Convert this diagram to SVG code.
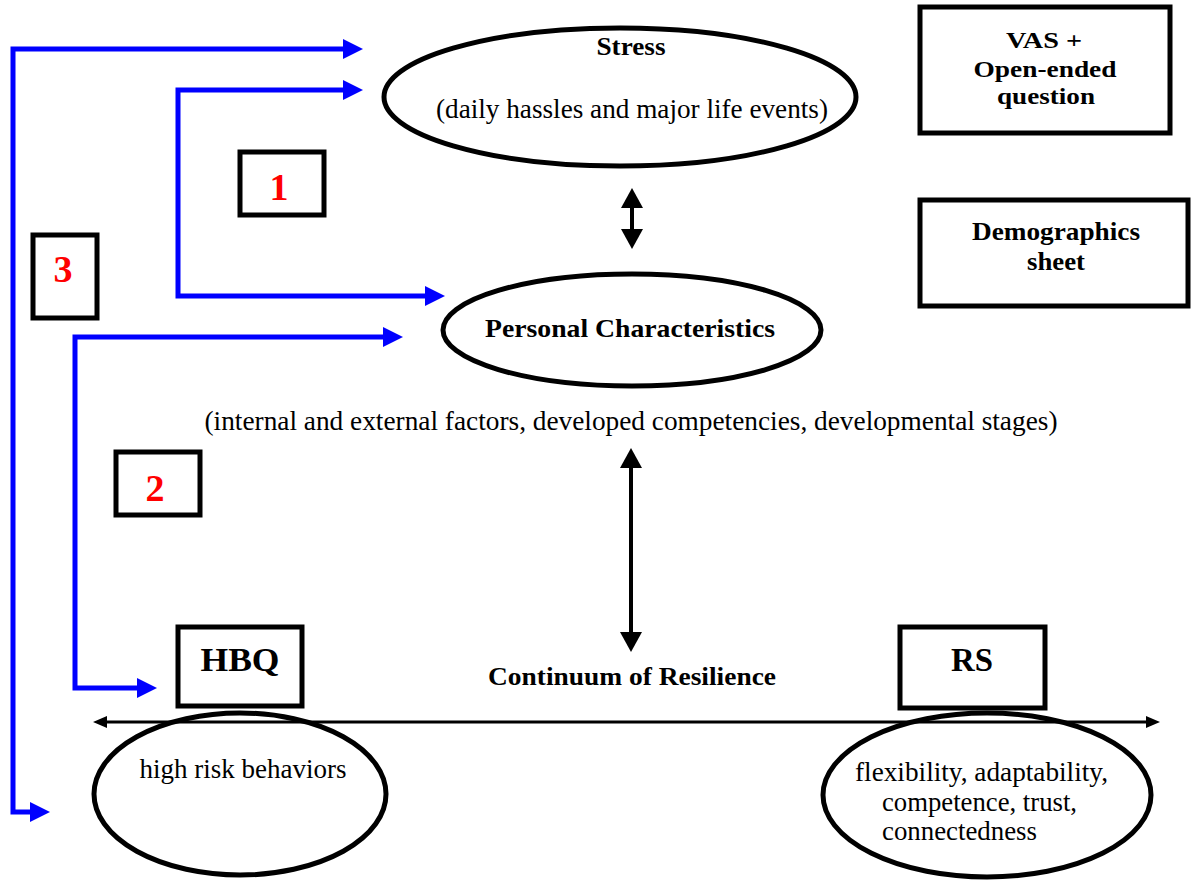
<svg xmlns="http://www.w3.org/2000/svg" width="1191" height="888" viewBox="0 0 1191 888">
<style>
  .t { font-family: "Liberation Serif", "Times New Roman", serif; fill: #000; }
  .b { font-weight: bold; }
  .num { font-family: "Liberation Serif", "Times New Roman", serif; font-weight: bold; fill: #ff0000; font-size: 38px; text-anchor: middle; }
  .box { fill: #fff; stroke: #000; stroke-width: 5; }
  .ell { fill: none; stroke: #000; stroke-width: 5; }
  .blue { fill: none; stroke: #0000ff; stroke-width: 5; stroke-linejoin: miter; }
  .blk { fill: none; stroke: #000; stroke-width: 4; }
  .blk2 { fill: none; stroke: #000; stroke-width: 3; }
</style>
<defs>
  <marker id="ab" markerUnits="userSpaceOnUse" markerWidth="20" markerHeight="20" refX="10" refY="10" orient="auto-start-reverse" viewBox="0 0 20 20">
    <path d="M0,0 L20,10 L0,20 z" fill="#0000ff"/>
  </marker>
  <marker id="ak" markerUnits="userSpaceOnUse" markerWidth="20" markerHeight="22" refX="9" refY="11" orient="auto-start-reverse" viewBox="0 0 20 22">
    <path d="M0,0 L20,11 L0,22 z" fill="#000"/>
  </marker>
  <marker id="as" markerUnits="userSpaceOnUse" markerWidth="14" markerHeight="12" refX="6" refY="6" orient="auto-start-reverse" viewBox="0 0 14 12">
    <path d="M0,0 L14,6 L0,12 z" fill="#000"/>
  </marker>
</defs>

<g id="connectors">
  <path class="blue" d="M353,49 H13 V812 H40" marker-start="url(#ab)" marker-end="url(#ab)"/>
  <path class="blue" d="M353,90 H178 V296 H435" marker-start="url(#ab)" marker-end="url(#ab)"/>
  <path class="blue" d="M393,337 H75 V688 H147" marker-start="url(#ab)" marker-end="url(#ab)"/>
  <path class="blk" d="M632,199 V238" marker-start="url(#ak)" marker-end="url(#ak)"/>
  <path class="blk" d="M631,459 V641" marker-start="url(#ak)" marker-end="url(#ak)"/>
  <path class="blk2" d="M101,722 H1152" marker-start="url(#as)" marker-end="url(#as)"/>
</g>

<g id="stress">
  <ellipse class="ell" cx="620" cy="97" rx="236" ry="69"/>
  <text class="t b" x="631" y="55" font-size="25" text-anchor="middle" textLength="69" lengthAdjust="spacingAndGlyphs">Stress</text>
  <text class="t" x="632" y="118" font-size="27" text-anchor="middle" textLength="392" lengthAdjust="spacingAndGlyphs">(daily hassles and major life events)</text>
</g>

<g id="personal">
  <ellipse class="ell" cx="632" cy="330" rx="189" ry="56"/>
  <text class="t b" x="630" y="337" font-size="25" text-anchor="middle" textLength="290" lengthAdjust="spacingAndGlyphs">Personal Characteristics</text>
  <text class="t" x="631" y="430" font-size="27" text-anchor="middle" textLength="853" lengthAdjust="spacingAndGlyphs">(internal and external factors, developed competencies, developmental stages)</text>
</g>

<g id="vas">
  <rect class="box" x="920" y="7" width="250" height="126"/>
  <text class="t b" x="1044" y="48" font-size="24" text-anchor="middle" textLength="76" lengthAdjust="spacingAndGlyphs">VAS +</text>
  <text class="t b" x="1045" y="77" font-size="24" text-anchor="middle" textLength="143" lengthAdjust="spacingAndGlyphs">Open-ended</text>
  <text class="t b" x="1046" y="104" font-size="24" text-anchor="middle" textLength="98" lengthAdjust="spacingAndGlyphs">question</text>
</g>

<g id="demographics">
  <rect class="box" x="920" y="200" width="268" height="106"/>
  <text class="t b" x="1056" y="240" font-size="26" text-anchor="middle" textLength="168" lengthAdjust="spacingAndGlyphs">Demographics</text>
  <text class="t b" x="1056" y="270" font-size="26" text-anchor="middle" textLength="58" lengthAdjust="spacingAndGlyphs">sheet</text>
</g>

<g id="box1">
  <rect class="box" x="240" y="152" width="84" height="63"/>
  <text class="num" x="279" y="200">1</text>
</g>
<g id="box3">
  <rect class="box" x="33" y="235" width="64" height="83"/>
  <text class="num" x="63" y="282">3</text>
</g>
<g id="box2">
  <rect class="box" x="116" y="452" width="84" height="63"/>
  <text class="num" x="155" y="501">2</text>
</g>

<g id="continuum">
  <text class="t b" x="632" y="685" font-size="25" text-anchor="middle" textLength="288" lengthAdjust="spacingAndGlyphs">Continuum of Resilience</text>
</g>

<g id="hbq">
  <ellipse class="ell" cx="240" cy="794" rx="146" ry="81"/>
  <rect class="box" x="178" y="627" width="124" height="79"/>
  <text class="t b" x="240" y="671" font-size="34" text-anchor="middle" textLength="79" lengthAdjust="spacingAndGlyphs">HBQ</text>
  <text class="t" x="243" y="778" font-size="27" text-anchor="middle" textLength="207" lengthAdjust="spacingAndGlyphs">high risk behaviors</text>
</g>

<g id="rs">
  <ellipse class="ell" cx="987" cy="795" rx="164" ry="82"/>
  <rect class="box" x="900" y="627" width="145" height="81"/>
  <text class="t b" x="972" y="671" font-size="34" text-anchor="middle" textLength="42" lengthAdjust="spacingAndGlyphs">RS</text>
  <text class="t" x="855" y="781" font-size="27" textLength="253" lengthAdjust="spacingAndGlyphs">flexibility, adaptability,</text>
  <text class="t" x="882" y="811" font-size="27" textLength="195" lengthAdjust="spacingAndGlyphs">competence, trust,</text>
  <text class="t" x="882" y="840" font-size="27" textLength="155" lengthAdjust="spacingAndGlyphs">connectedness</text>
</g>
</svg>
